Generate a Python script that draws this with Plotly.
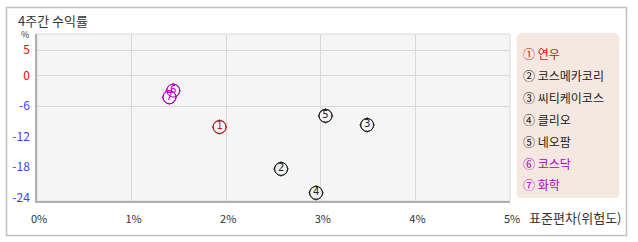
import plotly.graph_objects as go

# ---- data ----
names = ["연우", "코스메카코리", "씨티케이코스", "클리오", "네오팜", "코스닥", "화학"]
labels = ["1", "2", "3", "4", "5", "6", "7"]
circled = ["①", "②", "③", "④", "⑤", "⑥", "⑦"]
risk_std = [1.93, 2.58, 3.49, 2.95, 3.05, 1.44, 1.40]        # % (x)
return_4w = [-10.1, -18.35, -9.7, -23.05, -7.9, -2.95, -4.25]  # % (y)
colors = ["#b22222", "#222222", "#222222", "#222222", "#222222", "#b000c0", "#b000c0"]
legend_colors = ["#c01818", "#222222", "#222222", "#222222", "#222222", "#b000c0", "#b000c0"]

x_ticks = [0, 1, 2, 3, 4, 5]
x_ticktext = ["0%", "1%", "2%", "3%", "4%", "5%"]
y_ticks = [5, 0, -6, -12, -18, -24]
y_grid = [5, 0, -6]

# ---- layout geometry ----
W, H = 638, 242
ML, MR, MT, MB = 37, 128, 34, 41
PW, PH = W - ML - MR, H - MT - MB
BG = "#f5f5f5"
FONT = "Noto Sans CJK KR"


def px(xp):
    return (xp - ML) / PW


def py(yp):
    return (H - MB - yp) / PH


fig = go.Figure()

# crosshair ticks behind markers
fig.add_trace(go.Scatter(
    x=risk_std, y=return_4w, mode="markers", hoverinfo="skip",
    marker=dict(symbol="cross-thin-open", size=11, color=colors, line=dict(color=colors, width=1)),
    showlegend=False,
))
# filled circles with number labels
fig.add_trace(go.Scatter(
    x=risk_std, y=return_4w, mode="markers+text", text=labels,
    textposition="middle center",
    textfont=dict(family="DejaVu Sans", size=10, color=colors),
    marker=dict(symbol="circle", size=13, color=BG, line=dict(color=colors, width=1)),
    showlegend=False,
))
# open outlines on top so overlapping circles stay visible
fig.add_trace(go.Scatter(
    x=risk_std, y=return_4w, mode="markers", hoverinfo="skip",
    marker=dict(symbol="circle-open", size=13, color=colors, line=dict(color=colors, width=1)),
    showlegend=False,
))
# invisible trace on y2 for partial horizontal grid
fig.add_trace(go.Scatter(x=[None], y=[None], yaxis="y2", showlegend=False))

y_ticktext = [
    f"<span style='color:#ff0000'>{v}</span>" if v >= 0 else f"<span style='color:#4040ff'>{v}</span>"
    for v in y_ticks
]

yrange = [-24.65, 8.18]

fig.update_layout(
    width=W, height=H,
    margin=dict(l=ML, r=MR, t=MT, b=MB, pad=0),
    paper_bgcolor="white", plot_bgcolor=BG,
    font=dict(family=FONT, size=12, color="#333333"),
    xaxis=dict(
        range=[0, 5], tickvals=x_ticks, ticktext=x_ticktext,
        showgrid=True, gridcolor="#d8d8d8", gridwidth=1,
        showline=True, linecolor="#b0b0b0", linewidth=1.5,
        zeroline=False, ticks="outside", ticklen=7, tickcolor="rgba(0,0,0,0)",
        tickfont=dict(family=FONT, size=11, color="#333333"),
        ticklabelshift=2,
        fixedrange=True,
    ),
    yaxis=dict(
        range=yrange, tickvals=y_ticks, ticktext=y_ticktext,
        showgrid=False, showline=True, linecolor="#b0b0b0", linewidth=1.5,
        zeroline=False, ticks="outside", ticklen=3, tickcolor="rgba(0,0,0,0)",
        tickfont=dict(family=FONT, size=12),
        fixedrange=True,
    ),
    yaxis2=dict(
        range=yrange, tickvals=y_grid, overlaying="y", side="left",
        showgrid=True, gridcolor="#d8d8d8", gridwidth=1,
        showticklabels=False, zeroline=False, showline=False,
        fixedrange=True,
    ),
    showlegend=False,
)

shapes = []
# outer frame
shapes.append(dict(type="rect", xref="paper", yref="paper",
                   x0=px(6.5), x1=px(626.5), y0=py(235.5), y1=py(7.5),
                   line=dict(color="#c0c0c0", width=1.5), layer="below"))
# plot-area light border
shapes.append(dict(type="rect", xref="paper", yref="paper",
                   x0=0, x1=1, y0=0, y1=1,
                   line=dict(color="#dcdcdc", width=1), layer="below"))
# rounded legend box
x0, x1, y0, y1, r = px(516.5), px(619.5), py(198), py(33), 6
rx, ry = r / PW, r / PH
path = (f"M {x0+rx},{y1} L {x1-rx},{y1} Q {x1},{y1} {x1},{y1-ry} "
        f"L {x1},{y0+ry} Q {x1},{y0} {x1-rx},{y0} "
        f"L {x0+rx},{y0} Q {x0},{y0} {x0},{y0+ry} "
        f"L {x0},{y1-ry} Q {x0},{y1} {x0+rx},{y1} Z")
shapes.append(dict(type="path", xref="paper", yref="paper", path=path,
                   fillcolor="#f5e8e0", line=dict(width=0), layer="below"))
fig.update_layout(shapes=shapes)

ann = []
ann.append(dict(text="4주간 수익률", xref="paper", yref="paper", x=px(16), y=py(20),
                xanchor="left", yanchor="middle", showarrow=False,
                font=dict(family=FONT, size=13, color="#333333")))
ann.append(dict(text="%", xref="paper", yref="paper", x=px(25), y=py(34.5),
                xanchor="center", yanchor="middle", showarrow=False,
                font=dict(family=FONT, size=9, color="#333333")))
ann.append(dict(text="표준편차(위험도)", xref="paper", yref="paper", x=px(527), y=py(217),
                xanchor="left", yanchor="middle", showarrow=False,
                font=dict(family=FONT, size=13, color="#333333")))
for i, (c, n) in enumerate(zip(circled, names)):
    ann.append(dict(text=f"{c} {n}", xref="paper", yref="paper",
                    x=px(521), y=py(53.5 + i * 21.9),
                    xanchor="left", yanchor="middle", showarrow=False,
                    font=dict(family=FONT, size=12, color=legend_colors[i])))
fig.update_layout(annotations=ann)

fig.write_html("out.html")
